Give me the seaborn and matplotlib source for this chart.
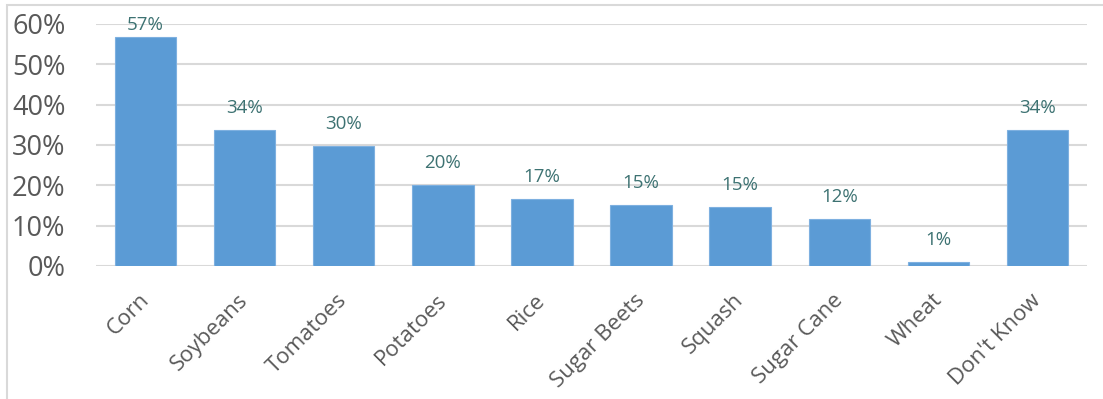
import matplotlib
matplotlib.use("Agg")
import matplotlib.pyplot as plt
import matplotlib.transforms as mtransforms
import seaborn as sns
import pandas as pd
from matplotlib.patches import Rectangle

crops = ["Corn", "Soybeans", "Tomatoes", "Potatoes", "Rice",
         "Sugar Beets", "Squash", "Sugar Cane", "Wheat", "Don't Know"]
shares = [56.7, 33.8, 29.8, 20.2, 16.7, 15.2, 14.6, 11.7, 1.0, 33.8]
y_ticks = [0, 10, 20, 30, 40, 50, 60]

df = pd.DataFrame({"crop": crops, "share": shares})

sns.set_theme(style="white")
plt.rcParams["font.family"] = ["Open Sans", "DejaVu Sans"]

fig = plt.figure(figsize=(11.03, 3.99), dpi=100)
ax = fig.add_axes([96 / 1103, 1 - 266 / 399, (1087 - 96) / 1103, (266 - 24) / 399])

# outer chart frame
fig.patches.append(Rectangle((7 / 1103, -0.1), 1.2, 1 - 5 / 399 + 0.1,
                             transform=fig.transFigure, fill=False,
                             edgecolor="#d9d9d9", linewidth=1.5, zorder=0))

sns.barplot(data=df, x="crop", y="share", color="#5b9bd5", width=0.62,
            saturation=1, edgecolor="#7eb0e0", linewidth=0.8, ax=ax, zorder=3)

ax.set_ylim(0, 60)
ax.set_yticks(y_ticks)
ax.set_yticklabels([f"{t}%" for t in y_ticks])
ax.yaxis.grid(True, color="#d9d9d9", linewidth=1.5, zorder=0)
ax.set_axisbelow(True)
for s in ax.spines.values():
    s.set_visible(False)
ax.set_xlabel("")
ax.set_ylabel("")
ax.tick_params(axis="y", length=0, pad=22, labelsize=19.5, labelcolor="#595959")
ax.tick_params(axis="x", length=0, pad=12, labelsize=16, labelcolor="#595959")

# nudge the slanted category labels down and to the left
shift = mtransforms.ScaledTranslation(-7 / 100, -7 / 100, fig.dpi_scale_trans)
for lbl in ax.get_xticklabels():
    lbl.set_rotation(45)
    lbl.set_ha("right")
    lbl.set_rotation_mode("anchor")
    lbl.set_transform(lbl.get_transform() + shift)

for i, v in enumerate(shares):
    y = v
    off = 12
    if v + 4.5 > 60:
        y, off = 58.6, 0
    ax.annotate(f"{v:.0f}%", (i, y), xytext=(0, off), textcoords="offset points",
                ha="center", va="baseline", fontsize=13.5, color="#3d7272",
                annotation_clip=False, zorder=4)

fig.savefig("out.png", dpi=100)
